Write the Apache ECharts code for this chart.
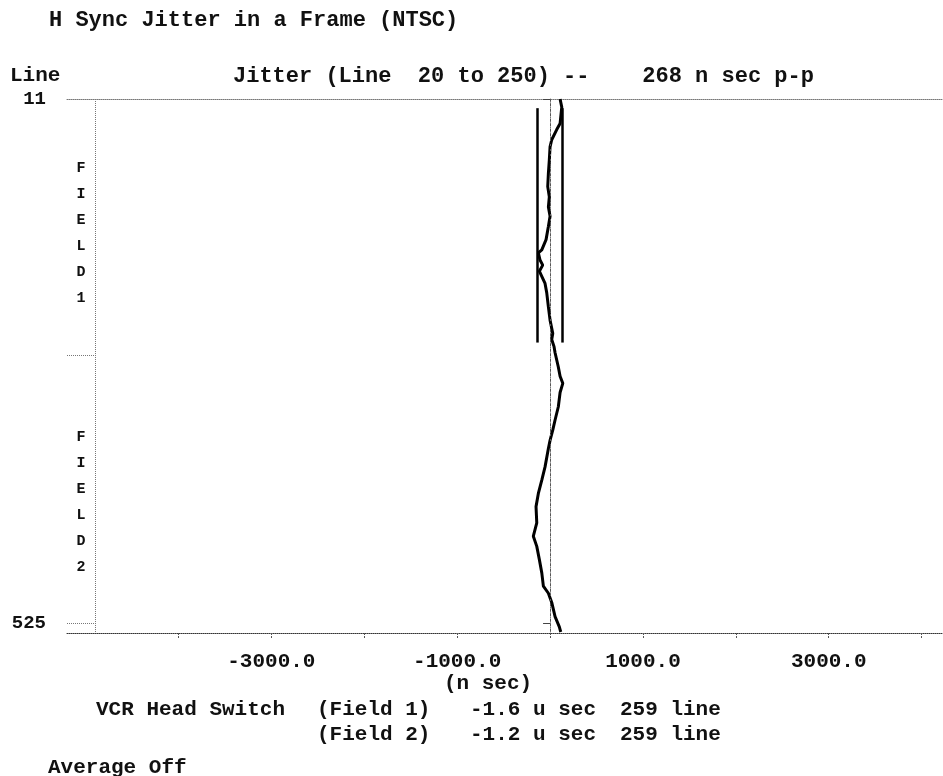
<!DOCTYPE html>
<html><head><meta charset="utf-8">
<script src="https://cdn.jsdelivr.net/npm/echarts@6/dist/echarts.min.js"></script>
<style>html,body{margin:0;padding:0;background:#fff}#c{width:943px;height:776px}</style>
</head><body><div id="c"></div>
<script>
// scan line numbers (y) and jitter in n sec (x)
const scanLines = [11, 19, 35, 41, 51, 58, 71, 84, 97, 107, 117, 126, 136, 149, 159, 162, 169, 174, 180, 185, 192, 201, 215, 228, 241, 247, 254, 260, 274, 283, 290, 299, 313, 326, 336, 346, 354, 372, 385, 398, 411, 427, 440, 450, 463, 476, 489, 496, 505, 519, 529, 534];
const jitterNs  = [108, 126, 108, 72, 18, 0, -8, -18, -25, -8, -18, 0, -18, -43, -89, -126, -108, -79, -115, -89, -54, -36, -18, 0, 29, 18, 43, 54, 89, 108, 137, 108, 89, 54, 29, 0, -18, -54, -89, -126, -151, -143, -180, -143, -115, -89, -72, -18, 18, 54, 100, 115];
const xTickValues = [-4000, -3000, -2000, -1000, 0, 1000, 2000, 3000, 4000];
const xLabelValues = [-3000, -1000, 1000, 3000];
const yLabelValues = [11, 525];
const ppMarkers = [-138, 130];
const ppRange = [20, 250];
const fieldBoundary = 262;
const xRange = [-5200, 4230];
const yRange = [11, 535];
const panelEdge = -4900;

const FONT = "'Liberation Mono', 'Courier New', monospace";
const txt = (x, y, s, size, align) => ({
  type: 'text', x: x, y: y,
  style: { text: s, font: 'bold ' + (size || 21) + 'px ' + FONT, fill: '#111', textAlign: align || 'left', textVerticalAlign: 'middle' }
});

const chart = echarts.init(document.getElementById('c'));
const dotted = { color: '#777', width: 1, type: [1, 1] };

chart.setOption({
  animation: false,
  backgroundColor: '#fff',
  grid: { left: 67, right: 0, top: 99, bottom: 143 },
  xAxis: [{
    type: 'value', min: xRange[0], max: xRange[1], position: 'bottom',
    splitLine: { show: false },
    axisLine: { show: true, lineStyle: { color: '#333', width: 1, type: [1, 1] } },
    axisTick: { show: true, customValues: xTickValues, length: 6, inside: false, lineStyle: { color: '#555', type: [2, 1] } },
    axisLabel: { show: true, customValues: xLabelValues, formatter: v => v.toFixed(1), margin: 18,
      fontFamily: FONT, fontWeight: 'bold', fontSize: 21, color: '#111' }
  }, {
    type: 'value', min: xRange[0], max: xRange[1], position: 'top',
    splitLine: { show: false },
    axisLine: { show: true, lineStyle: dotted },
    axisTick: { show: false }, axisLabel: { show: false }
  }],
  yAxis: {
    type: 'value', inverse: true, min: yRange[0], max: yRange[1],
    splitLine: { show: false },
    axisLine: { show: true, lineStyle: dotted },
    axisTick: { show: true, customValues: yLabelValues, length: 7, lineStyle: { color: '#444' } },
    axisLabel: { show: true, customValues: yLabelValues, margin: 21, fontFamily: FONT, fontWeight: 'bold', fontSize: 19, color: '#111' }
  },
  series: [{
    type: 'line', xAxisIndex: 0,
    data: scanLines.map((l, i) => [jitterNs[i], l]),
    showSymbol: false, symbol: 'none',
    lineStyle: { color: '#000', width: 3 },
    markLine: {
      silent: true, symbol: 'none', label: { show: false },
      data: [
        [{ coord: [ppMarkers[0], ppRange[0]], lineStyle: { color: '#000', width: 2.5, type: 'solid' } }, { coord: [ppMarkers[0], ppRange[1]] }],
        [{ coord: [ppMarkers[1], ppRange[0]], lineStyle: { color: '#000', width: 2.5, type: 'solid' } }, { coord: [ppMarkers[1], ppRange[1]] }],
        { xAxis: 0, lineStyle: { color: '#555', width: 1, type: [2, 3] } },
        { xAxis: panelEdge, lineStyle: dotted },
        [{ coord: [xRange[0], fieldBoundary], lineStyle: dotted }, { coord: [panelEdge, fieldBoundary] }],
        [{ coord: [xRange[0], yLabelValues[1]], lineStyle: dotted }, { coord: [panelEdge, yLabelValues[1]] }]
      ]
    }
  }],
  graphic: [
    txt(49, 20, 'H Sync Jitter in a Frame (NTSC)', 22),
    txt(10, 76, 'Line', 21),
    txt(233, 76, 'Jitter (Line  20 to 250) --    268 n sec p-p', 22),
    { type: 'text', x: 81, y: 233, style: { text: 'F\nI\nE\nL\nD\n1', font: 'bold 15px ' + FONT, fill: '#111', textAlign: 'center', textVerticalAlign: 'middle', lineHeight: 26 } },
    { type: 'text', x: 81, y: 502, style: { text: 'F\nI\nE\nL\nD\n2', font: 'bold 15px ' + FONT, fill: '#111', textAlign: 'center', textVerticalAlign: 'middle', lineHeight: 26 } },
    txt(488, 684, '(n sec)', 21, 'center'),
    txt(96, 710, 'VCR Head Switch'),
    txt(317, 710, '(Field 1)'),
    txt(470, 710, '-1.6 u sec'),
    txt(620, 710, '259 line'),
    txt(317, 735, '(Field 2)'),
    txt(470, 735, '-1.2 u sec'),
    txt(620, 735, '259 line'),
    txt(48, 768, 'Average Off')
  ]
});
</script></body></html>
